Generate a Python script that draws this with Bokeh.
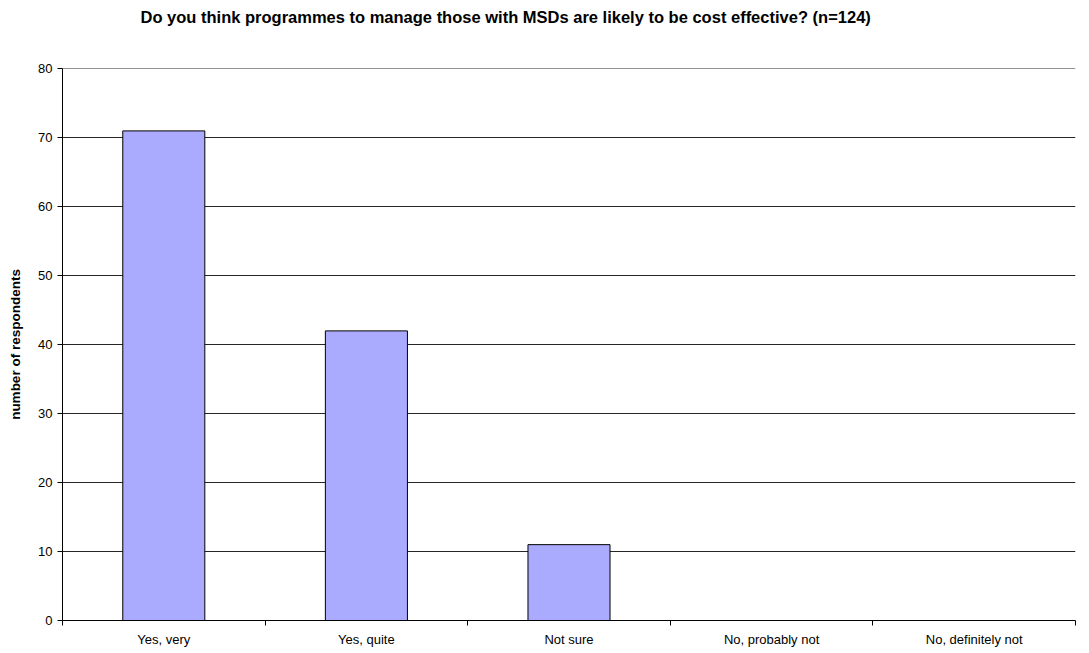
from bokeh.plotting import figure
from bokeh.models import FixedTicker, Range1d, ColumnDataSource, Title
from bokeh.embed import file_html
from bokeh.resources import INLINE

categories = ["Yes, very", "Yes, quite", "Not sure", "No, probably not", "No, definitely not"]
values = [71, 42, 11, 0, 0]
y_ticks = [0, 10, 20, 30, 40, 50, 60, 70, 80]
title = "Do you think programmes to manage those with MSDs are likely to be cost effective? (n=124)"
y_label = "number of respondents"

xs = [i + 0.5 for i in range(len(categories))]
src = ColumnDataSource(dict(x=xs, top=values))

p = figure(width=1089, height=653, output_backend="svg", toolbar_location=None,
           x_range=Range1d(0, len(categories)), y_range=Range1d(0, 80.05),
           min_border_left=62, min_border_right=14, min_border_top=0, min_border_bottom=33)
p.outline_line_color = None
p.background_fill_color = "white"

p.vbar(x="x", top="top", width=0.405, source=src, fill_color="#AAAAFF",
       line_color="black", line_width=1)

# title
p.title.text = title
p.title.text_font = "Liberation Sans"
p.title.text_font_size = "16.5px"
p.title.text_font_style = "bold"
p.title.text_color = "black"
p.title.align = "left"
p.title.offset = 78
p.title.standoff = 10

# blank spacer between title and plot frame
p.add_layout(Title(text=" ", text_font_size="12px", standoff=22), "above")

# y axis
yax = p.yaxis[0]
yax.ticker = FixedTicker(ticks=y_ticks)
yax.axis_label = y_label
yax.axis_label_text_font = "Liberation Sans"
yax.axis_label_text_font_size = "13.5px"
yax.axis_label_text_font_style = "bold"
yax.axis_label_text_color = "black"
yax.axis_label_standoff = 12
yax.major_label_text_font = "Liberation Sans"
yax.major_label_text_font_size = "13px"
yax.major_label_text_color = "black"
yax.major_tick_out = 5
yax.major_tick_in = 0
yax.minor_tick_line_color = None
yax.axis_line_color = "black"
yax.major_tick_line_color = "black"

# x axis
xax = p.xaxis[0]
xax.ticker = FixedTicker(ticks=xs, minor_ticks=list(range(len(categories) + 1)))
xax.major_label_overrides = {x: c for x, c in zip(xs, categories)}
xax.major_label_text_font = "Liberation Sans"
xax.major_label_text_font_size = "13px"
xax.major_label_text_color = "black"
xax.major_tick_line_color = None
xax.major_label_standoff = 5
xax.minor_tick_out = 5
xax.minor_tick_in = 0
xax.minor_tick_line_color = "black"
xax.axis_line_color = "black"

p.xgrid.grid_line_color = None
p.ygrid.ticker = FixedTicker(ticks=y_ticks)
p.ygrid.grid_line_color = "black"
p.ygrid.grid_line_alpha = 0.85

open("out.html", "w").write(file_html(p, INLINE))
